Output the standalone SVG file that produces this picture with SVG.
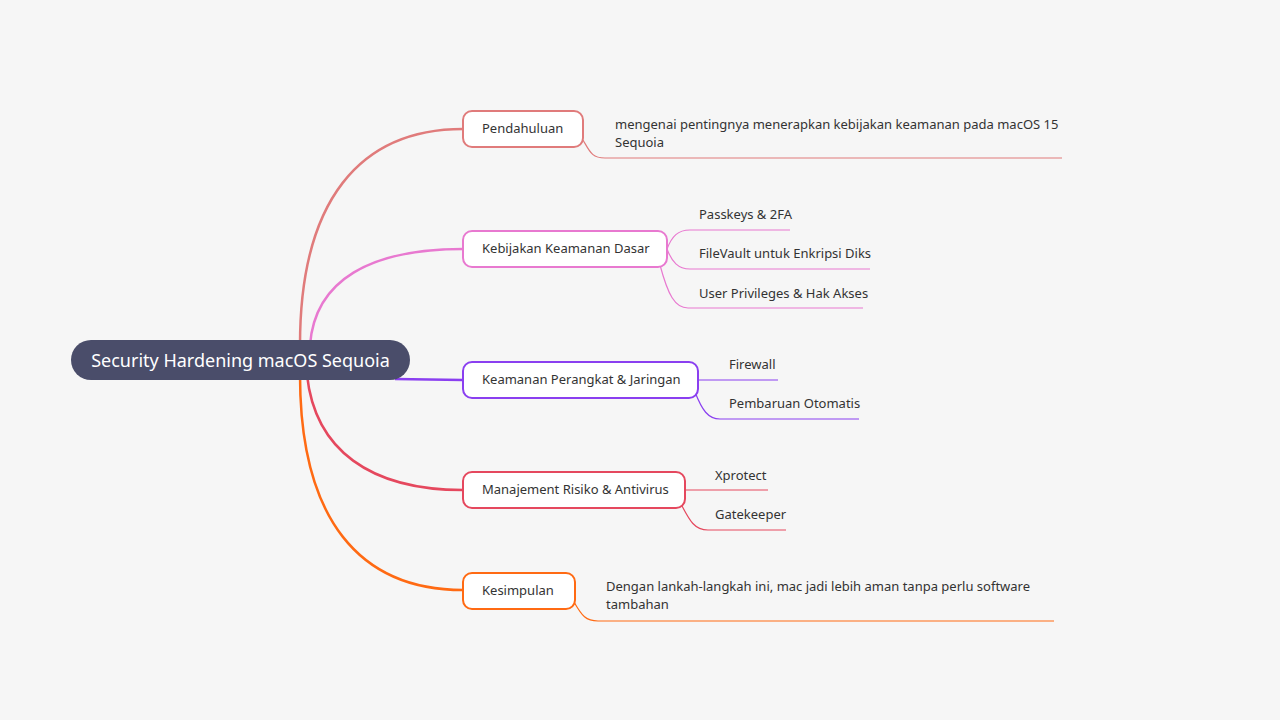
<svg xmlns="http://www.w3.org/2000/svg" width="1280" height="720" viewBox="0 0 1280 720">
<style>
text{font-family:"Noto Sans","Open Sans",sans-serif;font-size:13px;fill:#333}
.n{fill:#fff;stroke-width:2}
.b{fill:none;stroke-width:2.5}
.l{fill:none;stroke-width:1.2}
</style>
<rect width="1280" height="720" fill="#f6f6f6"/>
<g id="connectors">
<path class="b" stroke="#e07b7b" d="M300,345 C300,200 360,129 463,129"/>
<path class="b" stroke="#e879d0" d="M310,345 C315,280 370,249 463,249"/>
<path class="b" stroke="#8a3ff0" d="M395,379 L463,380"/>
<path class="b" stroke="#e5485e" d="M307,375 C315,450 370,490 463,490"/>
<path class="b" stroke="#ff6a13" d="M300,375 C300,520 360,590 463,590"/>
<path class="l" stroke="#e07b7b" d="M583,140 C590,152 592,158 605,158 L1062,158"/>
<path class="l" stroke="#e879d0" d="M667,249 C672,236 678,230 690,230 L790,230 M667,249 C672,262 678,269 690,269 L870,269 M660,265 C668,295 675,308 688,308 L863,308"/>
<path class="l" stroke="#8a3ff0" d="M698,380 L778,380 M695,392 C702,410 708,419 720,419 L859,419"/>
<path class="l" stroke="#e5485e" d="M685,490 L768,490 M680,502 C690,522 695,530 708,530 L786,530"/>
<path class="l" stroke="#ff6a13" d="M574,602 C582,616 586,621 598,621 L1054,621"/>
</g>
<g id="root"><rect x="71" y="340" width="339" height="40" rx="20" fill="#4a4d6a"/><text x="240.5" y="367" text-anchor="middle" style="font-size:18px;fill:#fff">Security Hardening macOS Sequoia</text></g>
<g id="n1"><rect class="n" stroke="#e07b7b" x="463" y="111" width="120" height="36" rx="9"/><text x="482" y="133">Pendahuluan</text></g>
<g id="n2"><rect class="n" stroke="#e879d0" x="463" y="231" width="204" height="36" rx="9"/><text x="482" y="253">Kebijakan Keamanan Dasar</text></g>
<g id="n3"><rect class="n" stroke="#8a3ff0" x="463" y="362" width="235" height="36" rx="9"/><text x="482" y="384">Keamanan Perangkat &amp; Jaringan</text></g>
<g id="n4"><rect class="n" stroke="#e5485e" x="463" y="472" width="222" height="36" rx="9"/><text x="482" y="494">Manajement Risiko &amp; Antivirus</text></g>
<g id="n5"><rect class="n" stroke="#ff6a13" x="463" y="573" width="112" height="36" rx="9"/><text x="482" y="595">Kesimpulan</text></g>
<g id="leaves">
<text x="615" y="129">mengenai pentingnya menerapkan kebijakan keamanan pada macOS 15</text>
<text x="615" y="147">Sequoia</text>
<text x="699" y="219">Passkeys &amp; 2FA</text>
<text x="699" y="258">FileVault untuk Enkripsi Diks</text>
<text x="699" y="298">User Privileges &amp; Hak Akses</text>
<text x="729" y="369">Firewall</text>
<text x="729" y="408">Pembaruan Otomatis</text>
<text x="715" y="480">Xprotect</text>
<text x="715" y="519">Gatekeeper</text>
<text x="606" y="591">Dengan lankah-langkah ini, mac jadi lebih aman tanpa perlu software</text>
<text x="606" y="609">tambahan</text>
</g>
</svg>
